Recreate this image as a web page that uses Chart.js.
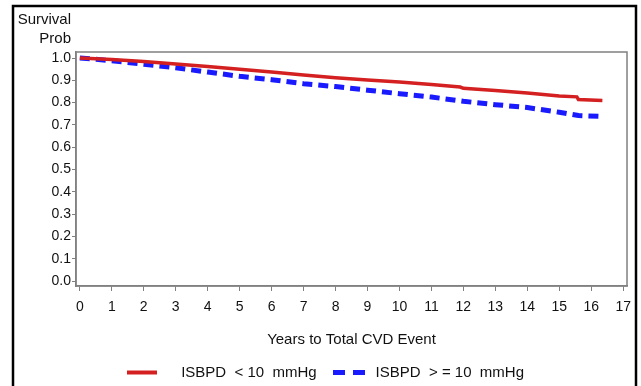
<!DOCTYPE html>
<html lang="en">
<head>
  <meta charset="UTF-8">
  <title>Survival by ISBPD</title>
  <script src="https://cdn.jsdelivr.net/npm/chart.js"></script>
  <style>
    html, body { margin: 0; padding: 0; background: #fff; }
    #wrap { width: 641px; height: 386px; }
  </style>
</head>
<body>
<div id="wrap"><canvas id="survChart"></canvas></div>
<script>
  // data
  const seriesNames = ['ISBPD  < 10  mmHg', 'ISBPD  > = 10  mmHg'];
  const lowYears = [0, 1, 2, 3, 4, 5, 6, 7, 8, 9, 10, 11, 11.9, 12, 13, 14, 15, 15.55, 15.6, 16.35];
  const lowSurv  = [1.0, 0.993, 0.984, 0.973, 0.962, 0.950, 0.937, 0.924, 0.912, 0.902, 0.892, 0.881, 0.870, 0.864, 0.854, 0.843, 0.830, 0.826, 0.814, 0.810];
  const highYears = [0, 1, 2, 3, 4, 5, 6, 7, 8, 9, 10, 11, 12, 13, 14, 15, 15.6, 16.35];
  const highSurv  = [1.0, 0.988, 0.972, 0.956, 0.937, 0.918, 0.903, 0.885, 0.872, 0.856, 0.840, 0.825, 0.806, 0.791, 0.778, 0.757, 0.742, 0.738];
  const xTicks = [0, 1, 2, 3, 4, 5, 6, 7, 8, 9, 10, 11, 12, 13, 14, 15, 16, 17];
  const yTicks = [0, 0.1, 0.2, 0.3, 0.4, 0.5, 0.6, 0.7, 0.8, 0.9, 1.0];

  const FONT = "'Liberation Sans', Arial, sans-serif";
  const RED = '#d42020';
  const BLUE = '#1a1aff';
  const toPts = (xs, ys) => xs.map((x, i) => ({ x: x, y: ys[i] }));

  // little dashed swatch for the legend (the point-style line ignores the dash)
  const dashSwatch = document.createElement('canvas');
  dashSwatch.width = 32;
  dashSwatch.height = 5;
  (function () {
    const c = dashSwatch.getContext('2d');
    c.fillStyle = BLUE;
    c.fillRect(0, 0, 12, 5);
    c.fillRect(20, 0, 12, 5);
  })();

  // outer box, plot frame and the "Survival Prob" label
  const frame = {
    id: 'frame',
    afterDraw(chart) {
      const { ctx, chartArea: a } = chart;
      ctx.save();
      ctx.strokeStyle = '#808080';
      ctx.lineWidth = 1.5;
      ctx.strokeRect(a.left, a.top, a.right - a.left, a.bottom - a.top);
      ctx.strokeStyle = '#000';
      ctx.lineWidth = 2.5;
      ctx.strokeRect(13, 6, 623, 420);
      ctx.fillStyle = '#111';
      ctx.font = '15px ' + FONT;
      ctx.textAlign = 'right';
      ctx.textBaseline = 'middle';
      ctx.fillText('Survival', 71, 20);
      ctx.fillText('Prob', 71, 39);
      ctx.restore();
    }
  };

  new Chart(document.getElementById('survChart'), {
    type: 'line',
    data: {
      datasets: [
        {
          label: seriesNames[0],
          data: toPts(lowYears, lowSurv),
          borderColor: RED,
          backgroundColor: RED,
          borderWidth: 3.5,
          pointRadius: 0,
          tension: 0
        },
        {
          label: seriesNames[1],
          data: toPts(highYears, highSurv),
          borderColor: BLUE,
          backgroundColor: BLUE,
          borderWidth: 5,
          borderDash: [10, 6],
          pointRadius: 0,
          tension: 0
        }
      ]
    },
    options: {
      responsive: true,
      maintainAspectRatio: false,
      animation: false,
      layout: { padding: { left: 24, right: 14, top: 52, bottom: -4 } },
      scales: {
        x: {
          type: 'linear',
          min: -0.12,
          max: 17.12,
          afterBuildTicks: s => { s.ticks = xTicks.map(v => ({ value: v })); },
          afterFit: s => { s.height = 70; },
          grid: { drawOnChartArea: false, drawTicks: true, tickLength: 5, color: '#808080' },
          border: { color: '#808080', width: 1.5 },
          ticks: { color: '#111', font: { family: FONT, size: 14 }, padding: 8, maxRotation: 0, autoSkip: false },
          title: { display: true, text: 'Years to Total CVD Event', color: '#111', font: { family: FONT, size: 15 }, padding: { top: 0, bottom: 7 } }
        },
        y: {
          min: -0.022,
          max: 1.027,
          afterBuildTicks: s => { s.ticks = yTicks.map(v => ({ value: v })); },
          afterFit: s => { s.width = 52; },
          grid: { drawOnChartArea: false, drawTicks: true, tickLength: 4, color: '#808080' },
          border: { color: '#808080', width: 1.5 },
          ticks: { color: '#111', font: { family: FONT, size: 14 }, padding: 1, callback: v => v.toFixed(1) }
        }
      },
      plugins: {
        tooltip: { enabled: false },
        legend: {
          position: 'bottom',
          labels: {
            color: '#111',
            font: { family: FONT, size: 15 },
            usePointStyle: true,
            pointStyle: 'line',
            pointStyleWidth: 30,
            padding: 9,
            generateLabels: chart => {
              const items = Chart.defaults.plugins.legend.labels.generateLabels(chart);
              items[0].text = '    ' + items[0].text + '  ';
              items[0].lineWidth = 4;
              items[1].text = ' ' + items[1].text;
              items[1].pointStyle = dashSwatch;
              return items;
            }
          }
        }
      }
    },
    plugins: [frame]
  });
</script>
</body>
</html>
